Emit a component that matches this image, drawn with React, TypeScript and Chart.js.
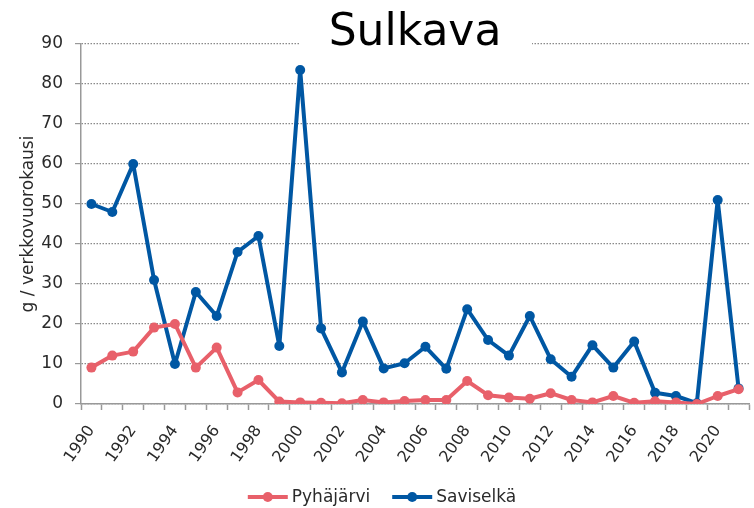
import React, { useEffect, useRef } from "react";
import { Chart, registerables } from "chart.js";

Chart.register(...registerables);

const years: string[] = [
  "1990","1991","1992","1993","1994","1995","1996","1997","1998","1999",
  "2000","2001","2002","2003","2004","2005","2006","2007","2008","2009",
  "2010","2011","2012","2013","2014","2015","2016","2017","2018","2019",
  "2020","2021",
];

const pyhajarvi: number[] = [
  9.1, 12.1, 13.1, 19.1, 20, 9.1, 14.1, 2.9, 6, 0.6,
  0.4, 0.3, 0.2, 1, 0.4, 0.75, 1, 1, 5.75, 2.2,
  1.6, 1.3, 2.7, 1, 0.4, 2, 0.3, 0.7, 0.4, 0,
  2, 3.7,
];

const saviselka: number[] = [
  50, 48, 60, 31, 10, 28, 22, 38, 42, 14.5,
  83.5, 18.9, 7.9, 20.6, 8.9, 10.2, 14.3, 8.8, 23.7, 16,
  12.1, 22, 11.2, 6.8, 14.7, 9.1, 15.6, 2.8, 2, 0.2,
  51, 3.9,
];

const seriesNames: string[] = ["Pyhäjärvi", "Saviselkä"];
const titleText = "Sulkava";
const yAxisTitle = "g / verkkovuorokausi";

const RED = "#E8606A";
const BLUE = "#0057A3";
const FONT = "'DejaVu Sans', sans-serif";
const TEXT = "#2a2a2a";

const titlePlugin = {
  id: "customTitle",
  beforeDatasetsDraw(chart: any) {
    const ctx = chart.ctx;
    ctx.save();
    ctx.fillStyle = "#ffffff";
    ctx.fillRect(300, 0, 232, 49);
    ctx.fillStyle = "#000000";
    ctx.font = `44px ${FONT}`;
    ctx.textAlign = "center";
    ctx.textBaseline = "alphabetic";
    ctx.fillText(titleText, 415, 45);
    ctx.restore();
  },
};

const legendPlugin = {
  id: "customLegend",
  afterDraw(chart: any) {
    const ctx = chart.ctx;
    ctx.save();
    ctx.font = `17px ${FONT}`;
    ctx.textBaseline = "middle";
    ctx.textAlign = "left";
    const y = 497;
    const lineW = 40;
    const gap = 4;
    const itemGap = 22;
    const ds = chart.data.datasets;
    const widths = ds.map((d: any) => lineW + gap + ctx.measureText(d.label).width);
    const total = widths.reduce((a: number, b: number) => a + b, 0) + itemGap * (ds.length - 1);
    let x = 382 - total / 2;
    ds.forEach((d: any, i: number) => {
      ctx.strokeStyle = d.borderColor;
      ctx.lineWidth = 4;
      ctx.beginPath();
      ctx.moveTo(x, y);
      ctx.lineTo(x + lineW, y);
      ctx.stroke();
      ctx.fillStyle = d.borderColor;
      ctx.beginPath();
      ctx.arc(x + lineW / 2, y, 5, 0, Math.PI * 2);
      ctx.fill();
      ctx.fillStyle = TEXT;
      ctx.fillText(d.label, x + lineW + gap, y + 1);
      x += widths[i] + itemGap;
    });
    ctx.restore();
  },
};

export default function App() {
  const ref = useRef<HTMLCanvasElement | null>(null);

  useEffect(() => {
    if (!ref.current) return;
    const mk = (label: string, data: number[], color: string) => ({
      label,
      data,
      borderColor: color,
      backgroundColor: color,
      borderWidth: 4,
      borderJoinStyle: "round" as const,
      borderCapStyle: "round" as const,
      pointRadius: 5,
      pointHoverRadius: 5,
      pointBackgroundColor: color,
      pointBorderWidth: 0,
      tension: 0,
    });
    const chart = new Chart(ref.current, {
      type: "line",
      data: {
        labels: years,
        datasets: [mk(seriesNames[0], pyhajarvi, RED), mk(seriesNames[1], saviselka, BLUE)],
      },
      options: {
        responsive: false,
        maintainAspectRatio: false,
        animation: false,
        layout: { padding: { top: 44, right: 2, left: 0, bottom: 0 } },
        plugins: {
          legend: { display: false },
          title: { display: false },
          tooltip: { enabled: false },
        },
        scales: {
          x: {
            type: "category",
            offset: true,
            grid: {
              display: true,
              offset: true,
              drawOnChartArea: false,
              drawTicks: true,
              tickLength: 6,
              tickColor: "#999999",
              tickWidth: 1.5,
            },
            border: { display: true, color: "#999999", width: 1.5 },
            ticks: {
              autoSkip: false,
              maxRotation: 55,
              minRotation: 55,
              padding: 12,
              color: TEXT,
              font: { family: FONT, size: 16 },
              callback: (_v: any, i: number) => (i % 2 === 0 ? years[i] : ""),
            },
            afterFit: (scale: any) => {
              scale.height = 104;
              scale.paddingLeft = 0;
              scale.paddingRight = 0;
            },
          },
          y: {
            min: 0,
            max: 90,
            ticks: {
              stepSize: 10,
              padding: 12,
              color: TEXT,
              font: { family: FONT, size: 17 },
            },
            grid: {
              color: "#8a8a8a",
              lineWidth: 1.2,
              drawTicks: true,
              tickLength: 6,
              tickColor: "#999999",
              tickWidth: 1.2,
              tickBorderDash: [],
            },
            border: { display: true, color: "#999999", width: 1.5, dash: [1.5, 1.5] },
            title: {
              display: true,
              text: yAxisTitle,
              color: TEXT,
              font: { family: FONT, size: 17 },
              padding: { top: 18, bottom: 0 },
            },
            afterFit: (scale: any) => {
              scale.width = 81;
            },
          },
        },
      },
      plugins: [titlePlugin, legendPlugin],
    });
    return () => chart.destroy();
  }, []);

  return (
    <div style={{ position: "fixed", left: 0, top: 0, width: 754, height: 508, background: "#fff" }}>
      <canvas ref={ref} width={754} height={508} style={{ width: 754, height: 508 }} />
    </div>
  );
}
